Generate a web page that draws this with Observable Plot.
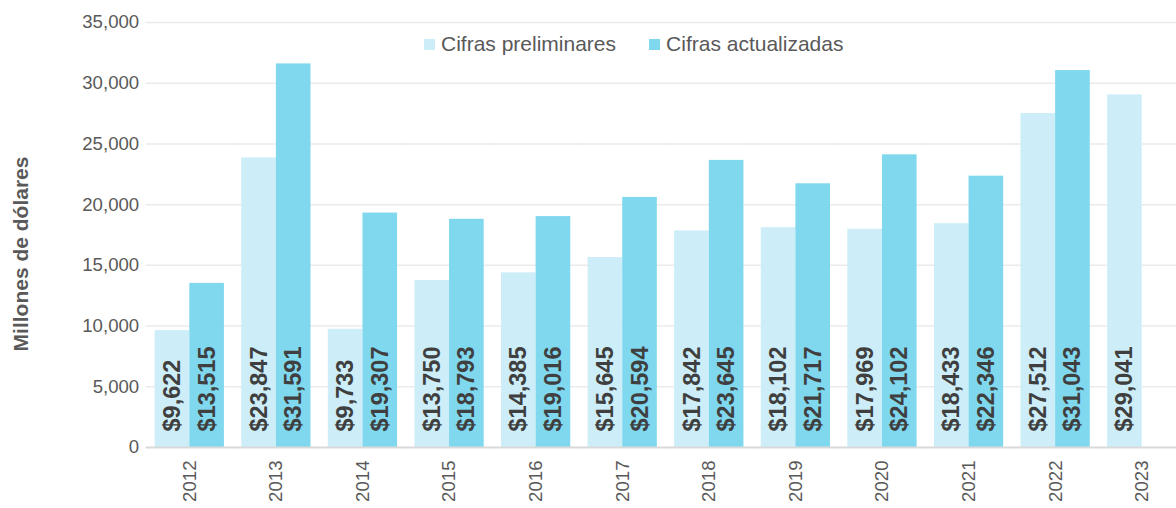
<!DOCTYPE html>
<html>
<head>
<meta charset="utf-8">
<script src="https://cdn.jsdelivr.net/npm/d3@7"></script>
<script src="https://cdn.jsdelivr.net/npm/@observablehq/plot@0.6"></script>
<style>
  html, body { margin: 0; padding: 0; background: #fff; overflow: hidden; }
  #wrap { position: relative; width: 1176px; height: 508px; font-family: "Liberation Sans", Arial, sans-serif; }
  #ytitle { position: absolute; left: 21px; top: 254px; transform: translate(-50%, -50%) rotate(-90deg); white-space: nowrap; font-size: 21px; font-weight: bold; color: #595959; }
  #legend { position: absolute; left: 424px; top: 32px; display: flex; align-items: center; font-size: 21px; color: #595959; }
  .item { display: flex; align-items: center; margin-right: 33px; }
  .sw { width: 11px; height: 11px; margin-right: 6px; }
</style>
</head>
<body>
<div id="wrap">
  <div id="chart"></div>
  <div id="ytitle">Millones de dólares</div>
  <div id="legend"></div>
</div>
<script>
const years = [2012, 2013, 2014, 2015, 2016, 2017, 2018, 2019, 2020, 2021, 2022, 2023];
const series = ["Cifras preliminares", "Cifras actualizadas"];
const preliminares = [9622, 23847, 9733, 13750, 14385, 15645, 17842, 18102, 17969, 18433, 27512, 29041];
const actualizadas = [13515, 31591, 19307, 18793, 19016, 20594, 23645, 21717, 24102, 22346, 31043, null];
const colors = ["#cdeef8", "#80d8ee"];
const yTicks = [0, 5000, 10000, 15000, 20000, 25000, 30000, 35000];

const data = [];
years.forEach((y, i) => {
  if (preliminares[i] != null) data.push({year: y, series: series[0], value: preliminares[i]});
  if (actualizadas[i] != null) data.push({year: y, series: series[1], value: actualizadas[i]});
});

const fmt = d3.format(",");
const gridData = years.flatMap(y => yTicks.filter(t => t > 0).map(t => ({year: y, tick: t})));
const baseData = years.map(y => ({year: y, tick: 0}));

const chart = Plot.plot({
  width: 1176,
  height: 508,
  marginLeft: 146,
  marginRight: -9,
  marginTop: 22,
  marginBottom: 61,
  style: {fontFamily: '"Liberation Sans", Arial, sans-serif', color: "#595959", background: "#fff"},
  fx: {domain: years, paddingInner: 0.2, paddingOuter: 0.1, round: false, label: null, axis: null},
  x: {domain: series, padding: 0, round: false, axis: null},
  y: {domain: [0, 35000], axis: null},
  color: {domain: series, range: colors},
  marks: [
    Plot.ruleY(gridData, {fx: "year", y: "tick", stroke: "#ebebeb", strokeWidth: 1.5, insetLeft: -9, insetRight: -9}),
    Plot.barY(data, {fx: "year", x: "series", y: "value", fill: "series"}),
    Plot.ruleY(baseData, {fx: "year", y: "tick", stroke: "#d9d9d9", strokeWidth: 2, insetLeft: -9, insetRight: -9}),
    Plot.text(data, {
      fx: "year", x: "series", y: 0,
      text: d => "$" + fmt(d.value),
      rotate: -90, textAnchor: "start", dy: -16,
      fontWeight: "bold", fontSize: 23.5, fill: "#3f3f3f"
    }),
    Plot.axisY({ticks: yTicks, tickFormat: d => fmt(d), tickSize: 0, tickPadding: 16, fontSize: 18.6, label: null}),
    Plot.axisFx({anchor: "bottom", tickRotate: -90, tickSize: 0, tickPadding: 13, fontSize: 18.6, tickFormat: d => String(d), label: null})
  ]
});
document.getElementById("chart").appendChild(chart);

const legend = document.getElementById("legend");
series.forEach((s, i) => {
  const item = document.createElement("div");
  item.className = "item";
  const sw = document.createElement("span");
  sw.className = "sw";
  sw.style.background = colors[i];
  const t = document.createElement("span");
  t.textContent = s;
  item.appendChild(sw);
  item.appendChild(t);
  legend.appendChild(item);
});
</script>
</body>
</html>
